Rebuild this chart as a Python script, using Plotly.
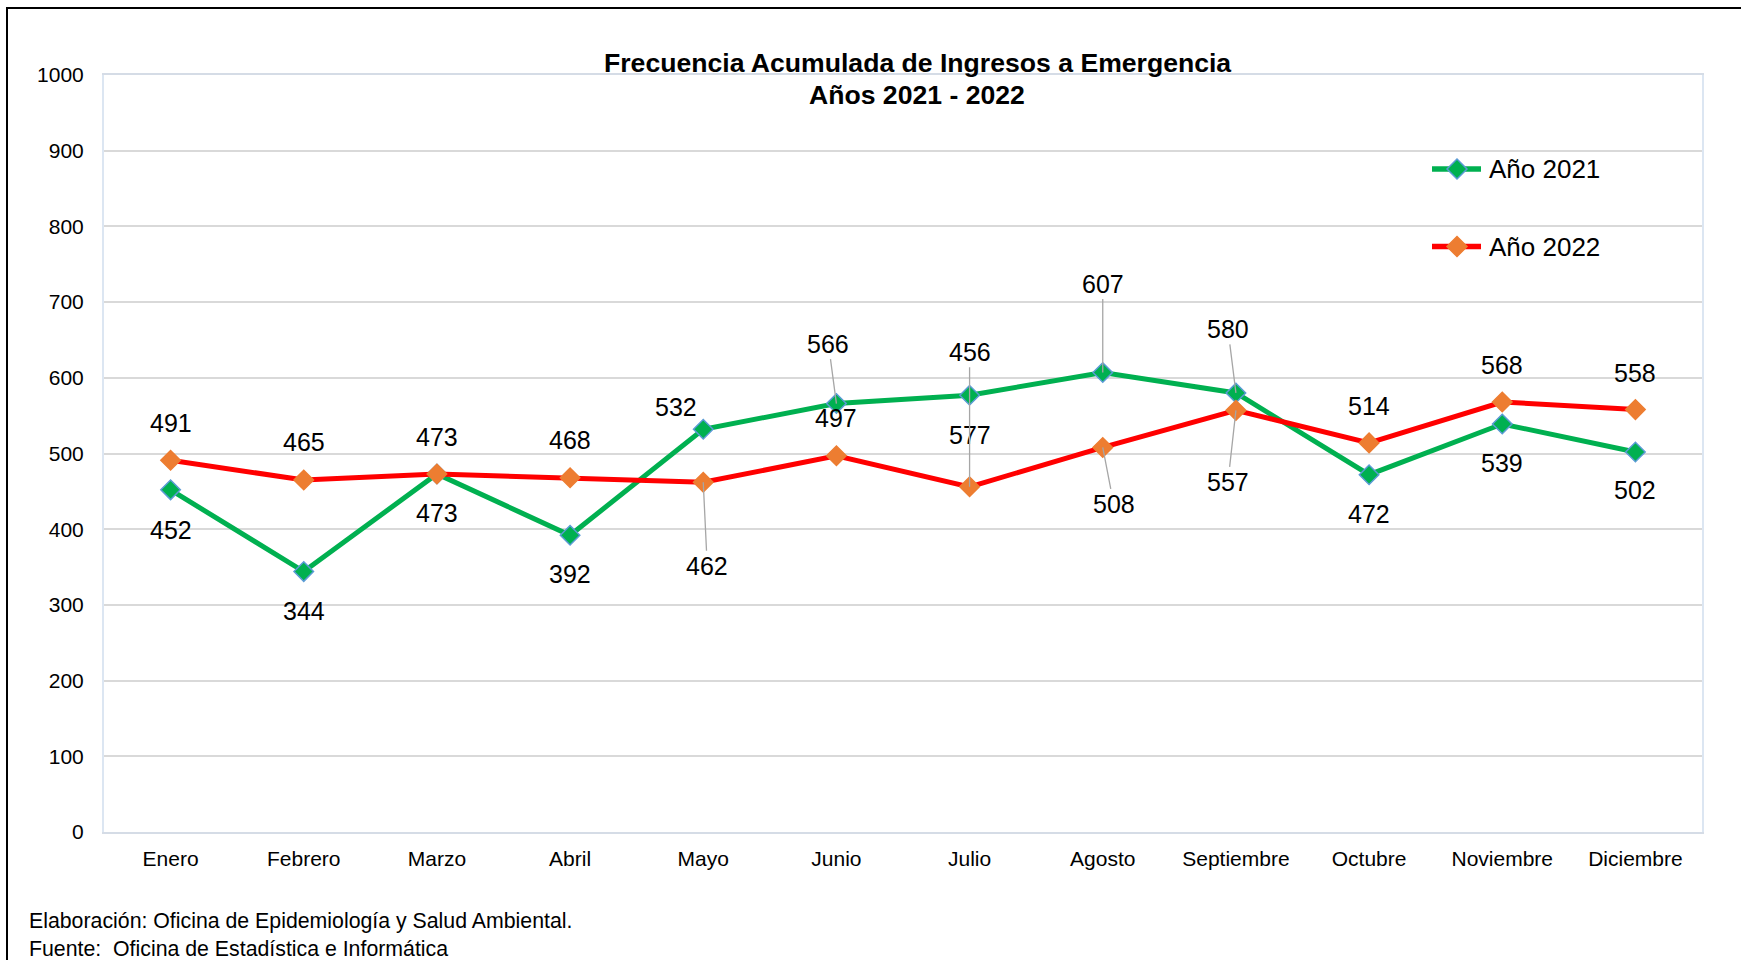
import plotly.graph_objects as go

# --- data ---
meses = ["Enero", "Febrero", "Marzo", "Abril", "Mayo", "Junio", "Julio",
         "Agosto", "Septiembre", "Octubre", "Noviembre", "Diciembre"]
anio_2021 = [452, 344, 473, 392, 532, 566, 577, 607, 580, 472, 539, 502]
anio_2022 = [491, 465, 473, 468, 462, 497, 456, 508, 557, 514, 568, 558]

# label offsets in pixels (ax, ay, leader line shown)
off_2021 = [(0, 40, False), (0, 39, False), (0, 39, False), (0, 39, False),
            (-27, -22, False), (-8, -60, True), (0, 40, False), (0, -89, True),
            (-8, -64, True), (0, 39, False), (0, 39, False), (0, 38, False)]
off_2022 = [(0, -37, False), (0, -38, False), (0, -37, False), (0, -38, False),
            (4, 84, True), (0, -38, False), (0, -135, True), (11, 57, True),
            (-8, 72, True), (0, -37, False), (0, -37, False), (0, -37, False)]

FONT = "Arial, Liberation Sans, sans-serif"
W, H = 1741, 960
L, R, T, B = 104, 39, 75, 128
PW, PH = W - L - R, H - T - B


def px(x):  # page pixel -> paper x
    return (x - L) / PW


def py(y):  # page pixel -> paper y
    return (H - B - y) / PH


colores = {
    "Año 2021": dict(line="#00B050", fill="#00B050", edge="#5B9BD5"),
    "Año 2022": dict(line="#FF0000", fill="#ED7D31", edge="#ED7D31"),
}

fig = go.Figure()
for nombre, serie in (("Año 2021", anio_2021), ("Año 2022", anio_2022)):
    c = colores[nombre]
    fig.add_trace(go.Scatter(
        x=meses, y=serie, name=nombre, mode="lines+markers",
        line=dict(color=c["line"], width=5),
        marker=dict(symbol="diamond", size=15, color=c["fill"],
                    line=dict(color=c["edge"], width=1.5)),
        showlegend=False,
    ))

annotations = []
for serie, offs in ((anio_2021, off_2021), (anio_2022, off_2022)):
    for mes, val, (ax, ay, leader) in zip(meses, serie, offs):
        annotations.append(dict(
            x=mes, y=val, text=str(val), showarrow=True,
            ax=ax, ay=ay, arrowhead=0, standoff=0,
            arrowwidth=1.3,
            arrowcolor="#A6A6A6" if leader else "rgba(0,0,0,0)",
            font=dict(family=FONT, size=25, color="#000000"),
        ))

# title (two lines)
annotations.append(dict(
    xref="paper", yref="paper", x=px(917), y=py(63), xanchor="center", yanchor="middle",
    showarrow=False, text="<b>Frecuencia Acumulada de Ingresos a Emergencia</b>",
    font=dict(family=FONT, size=26.6, color="#000000"),
))
annotations.append(dict(
    xref="paper", yref="paper", x=px(917), y=py(95), xanchor="center", yanchor="middle",
    showarrow=False, text="<b>Años 2021 - 2022</b>",
    font=dict(family=FONT, size=26.6, color="#000000"),
))

# footer
annotations.append(dict(
    xref="paper", yref="paper", x=px(27), y=py(907), xanchor="left", yanchor="top",
    align="left", showarrow=False,
    text="Elaboración: Oficina de Epidemiología y Salud Ambiental.<br>"
         "Fuente:&nbsp; Oficina de Estadística e Informática",
    font=dict(family=FONT, size=21.3, color="#000000"),
))

# legend (drawn by hand to get the long line samples)
shapes = []
for i, nombre in enumerate(("Año 2021", "Año 2022")):
    c = colores[nombre]
    yc = 169 + i * 77.5
    shapes.append(dict(
        type="line", xref="paper", yref="paper",
        x0=px(1432), x1=px(1481), y0=py(yc), y1=py(yc),
        line=dict(color=c["line"], width=5.5),
    ))
    xm, d = 1457, 10
    shapes.append(dict(
        type="path", xref="paper", yref="paper",
        path=f"M {px(xm - d)} {py(yc)} L {px(xm)} {py(yc - d)} "
             f"L {px(xm + d)} {py(yc)} L {px(xm)} {py(yc + d)} Z",
        fillcolor=c["fill"], line=dict(color=c["edge"], width=1.5),
    ))
    annotations.append(dict(
        xref="paper", yref="paper", x=px(1487), y=py(yc), xanchor="left", yanchor="middle",
        showarrow=False, text=nombre, font=dict(family=FONT, size=26, color="#000000"),
    ))

# outer frame
shapes.append(dict(
    type="rect", xref="paper", yref="paper", layer="above",
    x0=px(7), x1=px(1760), y0=py(980), y1=py(8),
    line=dict(color="#000000", width=2), fillcolor="rgba(0,0,0,0)",
))

fig.update_layout(
    width=W, height=H,
    margin=dict(l=L, r=R, t=T, b=B),
    paper_bgcolor="white", plot_bgcolor="white",
    font=dict(family=FONT, color="#000000"),
    showlegend=False,
    xaxis=dict(
        range=[-0.5, 11.5], showgrid=False, ticks="",
        tickfont=dict(family=FONT, size=21), ticklabelstandoff=7,
        showline=True, linecolor="#D5DCE6", linewidth=2, mirror=True,
    ),
    yaxis=dict(
        range=[0, 1000], dtick=100, showgrid=True, gridcolor="#D9D9D9", gridwidth=1.5,
        tickfont=dict(family=FONT, size=21), ticks="", ticklabelstandoff=14,
        showline=True, linecolor="#DCE6F2", linewidth=2, mirror=True,
        zeroline=False,
    ),
    annotations=annotations,
    shapes=shapes,
)

fig.write_html("out.html", config={"displayModeBar": False},
               post_script="document.body.style.margin='0';")
